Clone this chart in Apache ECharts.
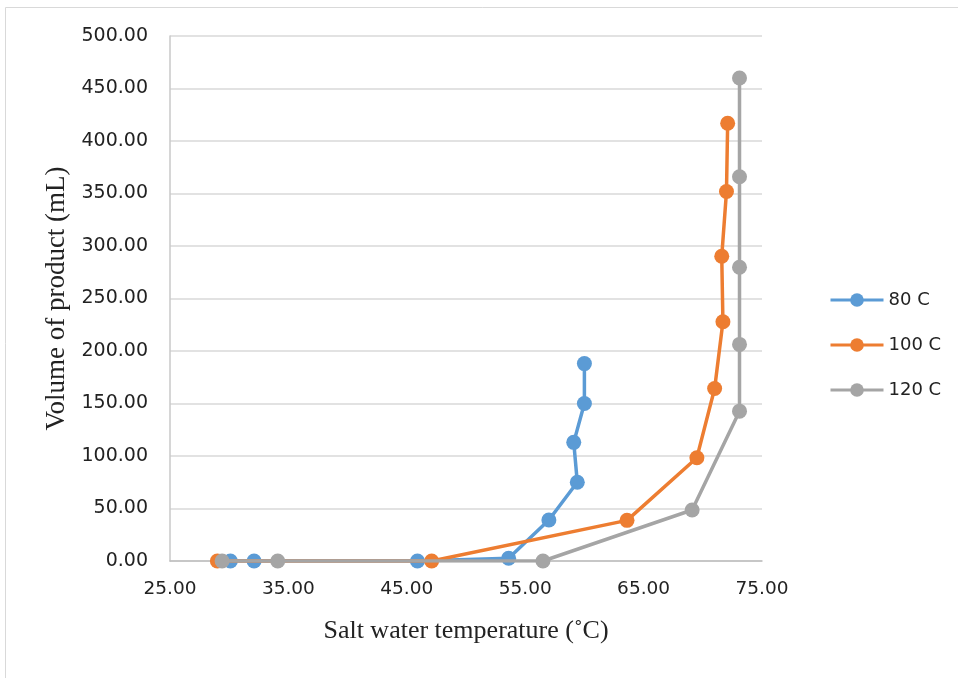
<!DOCTYPE html>
<html>
<head>
<meta charset="utf-8">
<script src="https://cdn.jsdelivr.net/npm/echarts@6/dist/echarts.min.js"></script>
<style>
  html, body { margin: 0; padding: 0; background: #fff; }
  #chart { width: 958px; height: 678px; }
</style>
</head>
<body>
<div id="chart"></div>
<script>
// salt water temperature (C) vs volume (mL)
var seriesNames = ['80 C', '100 C', '120 C']
var temp80 = [30.1, 32.1, 45.9, 53.6, 57.0, 59.4, 59.1, 60.0, 60.0]
var vol80 = [0, 0, 0, 2.6, 39, 75, 113, 150, 188]
var temp100 = [29.0, 47.1, 63.6, 69.5, 71.0, 71.7, 71.6, 72.0, 72.1]
var vol100 = [0, 0, 38.7, 98.4, 164.3, 227.9, 290.2, 351.9, 416.9]
var temp120 = [29.4, 34.1, 56.5, 69.1, 73.1, 73.1, 73.1, 73.1, 73.1]
var vol120 = [0, 0, 0, 48.6, 142.7, 206.3, 279.7, 366, 460]
var xTicks = [25, 35, 45, 55, 65, 75]
var colors = ['#5B9BD5', '#ED7D31', '#A5A5A5']

function pairs(xs, ys) {
  return xs.map(function (x, i) { return [x, ys[i]] })
}

var allData = [pairs(temp80, vol80), pairs(temp100, vol100), pairs(temp120, vol120)]

var chart = echarts.init(document.getElementById('chart'))
chart.setOption({
  animation: false,
  color: colors,
  graphic: [{
    type: 'rect',
    shape: { x: 5.5, y: 7.5, width: 970, height: 690 },
    style: { fill: 'none', stroke: '#d9d9d9', lineWidth: 1 },
    silent: true
  }],
  grid: {
    left: 170,
    right: 196,
    top: 36,
    bottom: 117
  },
  legend: {
    orient: 'vertical',
    left: 824,
    top: 286,
    itemWidth: 53,
    itemHeight: 17,
    itemGap: 27,
    lineStyle: { width: 3 },
    textStyle: {
      fontFamily: 'DejaVu Sans',
      fontSize: 18,
      color: '#222'
    },
    data: seriesNames
  },
  xAxis: {
    type: 'value',
    min: 25,
    max: 75,
    name: 'Salt water temperature (˚C)',
    nameLocation: 'middle',
    nameGap: 57,
    nameTextStyle: {
      fontFamily: 'Liberation Serif',
      fontSize: 26,
      color: '#222'
    },
    axisLine: { show: true, lineStyle: { color: '#bfbfbf', width: 1.5 } },
    axisTick: { show: false },
    splitLine: { show: false },
    axisLabel: {
      customValues: xTicks,
      margin: 19,
      fontFamily: 'DejaVu Sans',
      fontSize: 18.5,
      color: '#222',
      formatter: function (v) { return v.toFixed(2) }
    }
  },
  yAxis: {
    type: 'value',
    min: 0,
    max: 500,
    interval: 50,
    name: 'Volume of product (mL)',
    nameLocation: 'middle',
    nameGap: 99,
    nameTextStyle: {
      fontFamily: 'Liberation Serif',
      fontSize: 27,
      color: '#222'
    },
    axisLine: { show: true, lineStyle: { color: '#c8c8c8', width: 1.5 } },
    axisTick: { show: false },
    splitLine: { lineStyle: { color: '#d9d9d9', width: 1.5 } },
    axisLabel: {
      margin: 22,
      fontFamily: 'DejaVu Sans',
      fontSize: 19,
      color: '#222',
      formatter: function (v) { return v.toFixed(2) }
    }
  },
  series: seriesNames.map(function (name, i) {
    return {
      name: name,
      type: 'line',
      data: allData[i],
      symbol: 'circle',
      symbolSize: 15,
      lineStyle: { width: 3.5 },
      itemStyle: { color: colors[i] },
      z: 2 + i
    }
  })
})
</script>
</body>
</html>
